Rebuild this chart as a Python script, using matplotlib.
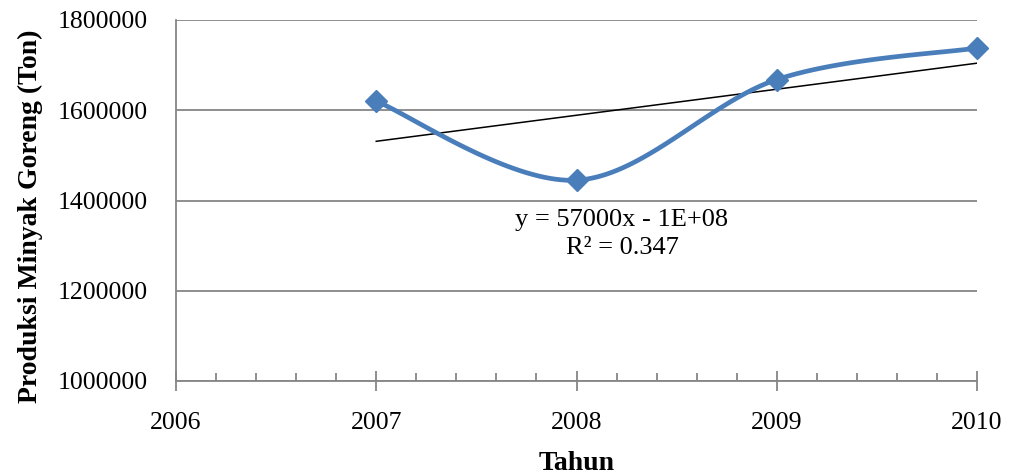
import numpy as np
import matplotlib
matplotlib.use("Agg")
import matplotlib.pyplot as plt
from matplotlib.ticker import MultipleLocator, StrMethodFormatter

# Produksi minyak goreng per tahun (ton)
tahun = [2007, 2008, 2009, 2010]
produksi = [1620000, 1445000, 1668000, 1738000]

x_ticks = [2006, 2007, 2008, 2009, 2010]
y_ticks = [1000000, 1200000, 1400000, 1600000, 1800000]

eq_text = "y = 57000x - 1E+08"
r2_text = "R² = 0.347"

BLUE = "#4A7EBB"
GRAY = "#868686"


def smooth_curve(xs, ys, n=40):
    """Excel-like smoothed line (Catmull-Rom through the points as Bezier)."""
    p = np.column_stack([xs, ys]).astype(float)
    pts = np.vstack([p[0], p, p[-1]])
    out = []
    t = np.linspace(0, 1, n)[:, None]
    for i in range(1, len(pts) - 2):
        p0, p1, p2, p3 = pts[i - 1], pts[i], pts[i + 1], pts[i + 2]
        c1 = p1 + (p2 - p0) / 6
        c2 = p2 - (p3 - p1) / 6
        seg = ((1 - t) ** 3) * p1 + 3 * ((1 - t) ** 2) * t * c1 + 3 * (1 - t) * t ** 2 * c2 + t ** 3 * p2
        out.append(seg if i == 1 else seg[1:])
    seg = np.vstack(out)
    return seg[:, 0], seg[:, 1]


plt.rcParams["font.family"] = ["Liberation Serif", "DejaVu Serif"]

fig = plt.figure(figsize=(10.09, 4.76), dpi=100)
ax = fig.add_axes([176 / 1009, 1 - 381 / 476, (977 - 176) / 1009, (381 - 20) / 476])

sx, sy = smooth_curve(tahun, produksi)
ax.plot(sx, sy, color=BLUE, lw=3.4, solid_capstyle="round", zorder=3, clip_on=False)
ax.plot(tahun, produksi, ls="none", marker="D", ms=11, color=BLUE, zorder=4, clip_on=False)

# linear trendline
coef = np.polyfit(tahun, produksi, 1)
tx = np.array([tahun[0], tahun[-1]])
ax.plot(tx, np.polyval(coef, tx), color="black", lw=1.1, zorder=2)

ax.text(2008.227, 1356800, eq_text, ha="center", va="center", fontsize=19)
ax.text(2008.227, 1294700, r2_text, ha="center", va="center", fontsize=19)

ax.set_xlim(2006, 2010)
ax.set_ylim(1000000, 1800000)
ax.set_xticks(x_ticks)
ax.set_yticks(y_ticks)
ax.yaxis.set_major_formatter(StrMethodFormatter("{x:.0f}"))
ax.xaxis.set_minor_locator(MultipleLocator(0.2))
ax.grid(axis="y", color=GRAY, lw=1.3)
ax.set_axisbelow(True)

for s in ["top", "right"]:
    ax.spines[s].set_visible(False)
for s in ["left", "bottom"]:
    ax.spines[s].set_color(GRAY)
    ax.spines[s].set_linewidth(1.3)

ax.tick_params(axis="x", which="major", direction="inout", length=14, width=1.3,
               color=GRAY, labelsize=18.5, pad=15)
ax.tick_params(axis="x", which="minor", direction="in", length=6, width=1.3, color=GRAY)
ax.tick_params(axis="y", length=0, labelsize=18.5, pad=20)

fig.text(577 / 1009, 1 - 463 / 476, "Tahun", ha="center", va="center",
         fontsize=20, fontweight="bold")
fig.text(30 / 1009, 1 - 216 / 476, "Produksi Minyak Goreng (Ton)", ha="center",
         va="center", rotation=90, fontsize=20, fontweight="bold")

fig.savefig("out.png", dpi=100)
